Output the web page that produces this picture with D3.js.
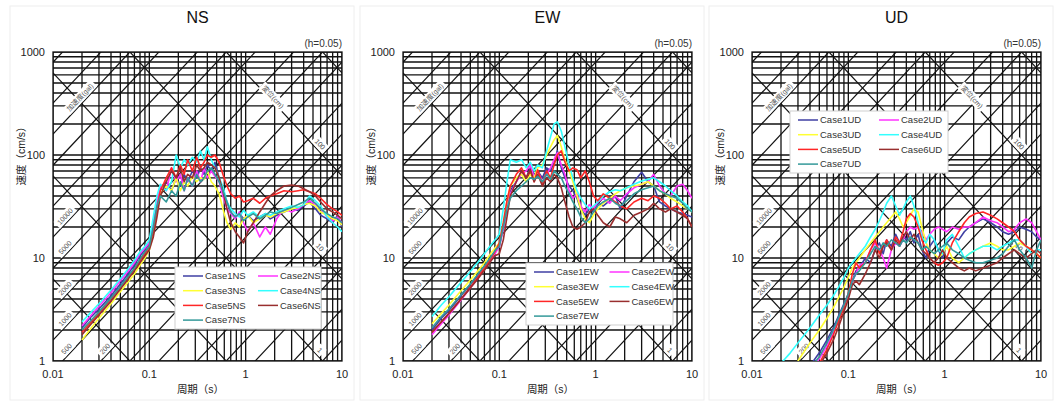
<!DOCTYPE html>
<html>
<head>
<meta charset="utf-8">
<script src="https://cdn.jsdelivr.net/npm/d3@7/dist/d3.min.js"></script>
<style>
  body { margin: 0; background: #fff; }
  svg { display: block; }
  text { font-family: Arial, "Liberation Sans", "Noto Sans CJK JP", sans-serif; }
</style>
</head>
<body>
<svg id="chart" width="1054" height="403"></svg>
<script>
// periods (s) shared by every case
const periods = [0.02, 0.025, 0.03, 0.04, 0.05, 0.06, 0.07, 0.08, 0.09, 0.1,
  0.11, 0.12, 0.13, 0.15, 0.17, 0.19, 0.21, 0.23, 0.25, 0.28,
  0.31, 0.34, 0.37, 0.4, 0.44, 0.48, 0.53, 0.58, 0.64, 0.7,
  0.78, 0.86, 0.95, 1.05, 1.2, 1.4, 1.6, 1.8, 2.1, 2.5,
  3.0, 3.5, 4.0, 4.6, 5.3, 6.0, 7.0, 8.0, 9.0, 10];

const caseNames = ['Case1', 'Case2', 'Case3', 'Case4', 'Case5', 'Case6', 'Case7'];
const caseColors = ['#3f3fa3', '#ff33ff', '#ffff33', '#33ffff', '#ff2626', '#992e2e', '#339999'];

// velocity response (cm/s), h=0.05
const nsValues = [
  [2.1, 2.7, 3.2, 4.3, 5.6, 7, 8.6, 10.5, 12, 14, 20, 32, 48, 55, 45, 60, 50, 65, 55, 70, 60, 75, 65, 80, 70, 85, 60, 45, 35, 28, 25, 27, 24, 26, 23, 25, 27, 24, 26, 28, 30, 29, 32, 35, 30, 26, 24, 22, 26, 20],
  [2.2, 2.8, 3.4, 4.6, 6, 7.4, 9, 11, 12.5, 14, 22, 35, 50, 45, 75, 55, 65, 45, 60, 50, 70, 55, 75, 60, 70, 62, 55, 40, 30, 27, 24, 28, 22, 18, 22, 16, 20, 17, 24, 30, 28, 30, 33, 36, 33, 30, 25, 23, 25, 22],
  [1.6, 2.1, 2.6, 3.6, 4.7, 5.8, 7, 8.5, 10, 12, 17, 28, 42, 50, 45, 60, 45, 55, 50, 62, 55, 60, 58, 70, 55, 50, 42, 30, 22, 19, 22, 20, 24, 26, 22, 24, 26, 25, 27, 28, 30, 31, 33, 34, 32, 28, 26, 24, 23, 21],
  [2.4, 3.0, 3.6, 4.9, 6.3, 7.8, 9.5, 11.5, 13, 15, 25, 40, 52, 45, 55, 100, 75, 90, 80, 95, 85, 110, 90, 120, 90, 75, 60, 50, 35, 30, 27, 25, 29, 26, 28, 25, 27, 26, 28, 30, 32, 31, 33, 40, 36, 32, 25, 22, 20, 18],
  [1.9, 2.4, 2.9, 4, 5.2, 6.4, 7.8, 9.5, 11, 13, 18, 30, 45, 60, 75, 60, 80, 65, 90, 70, 95, 75, 85, 100, 95, 100, 85, 65, 50, 42, 38, 40, 35, 36, 38, 34, 38, 40, 42, 45, 44, 45, 46, 44, 42, 38, 33, 30, 28, 26],
  [1.8, 2.3, 2.8, 3.8, 5, 6.2, 7.5, 9, 10.5, 12, 16, 25, 40, 55, 70, 60, 75, 55, 65, 60, 80, 70, 75, 85, 80, 75, 60, 45, 30, 22, 18, 16, 14, 18, 22, 28, 34, 40, 45, 50, 51, 50, 47, 44, 40, 35, 30, 28, 26, 24],
  [2.0, 2.5, 3.0, 4.1, 5.3, 6.6, 8, 9.8, 11.5, 13, 20, 32, 40, 35, 45, 40, 55, 45, 60, 50, 65, 55, 60, 70, 75, 65, 55, 45, 35, 28, 25, 27, 23, 25, 27, 24, 26, 28, 27, 29, 31, 33, 35, 38, 34, 30, 27, 25, 24, 22]
];

const ewValues = [
  [2.0, 2.6, 3.1, 4.3, 5.5, 6.8, 8.2, 9.8, 11.5, 13, 20, 32, 45, 55, 70, 60, 75, 65, 70, 60, 75, 70, 85, 110, 75, 60, 50, 45, 38, 30, 26, 30, 28, 34, 32, 36, 40, 30, 40, 55, 68, 55, 50, 35, 32, 30, 28, 27, 26, 25],
  [1.8, 2.3, 2.8, 3.9, 5.1, 6.4, 7.9, 9.5, 11, 13, 19, 30, 42, 55, 65, 70, 80, 60, 70, 55, 65, 75, 90, 105, 80, 65, 45, 38, 42, 32, 28, 33, 30, 35, 38, 34, 40, 36, 42, 48, 52, 55, 65, 50, 42, 40, 50, 52, 45, 38],
  [2.3, 2.9, 3.5, 4.8, 6.1, 7.5, 9, 10.8, 12.5, 14, 22, 35, 50, 60, 65, 55, 65, 60, 75, 80, 100, 120, 140, 155, 120, 90, 70, 55, 40, 30, 24, 22, 26, 30, 34, 38, 42, 45, 48, 50, 52, 55, 50, 45, 42, 38, 35, 32, 30, 28],
  [2.7, 3.5, 4.2, 5.8, 7.4, 9.1, 11, 13, 15, 17, 30, 55, 90, 85, 90, 75, 85, 70, 80, 75, 110, 150, 200, 210, 170, 120, 80, 60, 45, 38, 33, 30, 32, 35, 40, 44, 46, 45, 48, 52, 56, 58, 60, 55, 50, 45, 40, 35, 32, 28],
  [1.9, 2.4, 2.9, 4.0, 5.2, 6.5, 8, 9.6, 11.5, 14, 22, 36, 50, 65, 75, 60, 70, 55, 72, 52, 70, 60, 80, 100, 110, 85, 70, 75, 72, 60, 70, 55, 40, 36, 42, 38, 35, 32, 30, 35, 38, 36, 40, 38, 34, 30, 32, 28, 24, 20],
  [1.9, 2.4, 2.9, 4.0, 5.1, 6.3, 7.6, 9.1, 10.5, 11, 15, 25, 40, 55, 70, 60, 72, 55, 65, 50, 60, 55, 65, 60, 48, 35, 25, 20, 19, 20, 22, 28, 30, 26, 22, 20, 25, 24, 22, 26, 28, 30, 34, 30, 28, 30, 28, 26, 24, 20],
  [2.1, 2.7, 3.2, 4.4, 5.6, 7, 8.4, 10, 11.8, 13, 20, 30, 38, 45, 50, 55, 60, 58, 62, 55, 65, 58, 70, 65, 60, 50, 42, 35, 30, 25, 22, 24, 28, 32, 35, 38, 34, 32, 36, 42, 46, 48, 50, 45, 42, 40, 38, 34, 30, 28]
];

const udValues = [
  [0.5, 0.6, 0.72, 0.9, 1.2, 1.6, 2.1, 2.8, 3.6, 4.5, 6, 7.5, 8, 10, 9, 12, 14, 11, 15, 13, 17, 14, 16, 15, 18, 14, 17, 12, 10, 13, 15, 12, 10, 14, 16, 15, 18, 20, 22, 24, 22, 20, 18, 17, 18, 20, 19, 18, 16, 15],
  [0.45, 0.55, 0.65, 0.8, 1.05, 1.4, 1.9, 2.6, 3.4, 4.3, 6, 7, 8.5, 9, 12, 14, 12, 10, 8, 12, 14, 13, 15, 18, 20, 19, 20, 18, 15, 17, 19, 20, 19, 18, 20, 19, 20, 20, 22, 25, 23, 22, 20, 18, 19, 22, 24, 22, 18, 15],
  [0.7, 0.85, 1.0, 1.5, 2.0, 2.6, 3.3, 4.2, 5.2, 6.5, 8, 9, 10, 12, 14, 16, 18, 20, 22, 25, 28, 24, 20, 22, 26, 30, 28, 20, 14, 12, 11, 10, 11, 13, 10, 9, 10, 11, 12, 13, 14, 13, 12, 12, 13, 14, 13, 12, 11, 10],
  [0.95, 1.2, 1.5, 2.1, 2.8, 3.5, 4.3, 5.3, 6.5, 8, 9, 10, 11, 13, 16, 19, 23, 28, 34, 40, 32, 26, 30, 35, 40, 32, 22, 16, 14, 17, 15, 12, 11, 15, 17, 13, 10, 11, 12, 13, 13, 12, 13, 14, 15, 15, 13, 11, 12, 12],
  [0.4, 0.5, 0.6, 0.75, 0.95, 1.3, 1.8, 2.5, 3.3, 4.5, 7, 9, 8, 9, 12, 15, 11, 13, 15, 12, 16, 14, 18, 24, 27, 25, 20, 15, 12, 10, 9, 8.5, 9, 10, 14, 18, 22, 25, 27, 28, 26, 24, 22, 20, 18, 15, 13, 12, 11, 10],
  [0.38, 0.46, 0.55, 0.7, 0.9, 1.2, 1.6, 2.2, 3, 4, 5.5, 6, 5.5, 7, 9, 12, 10, 13, 14, 12, 15, 13, 16, 18, 15, 17, 14, 12, 11, 10, 9, 10, 12, 10, 9, 8, 7.5, 8, 7.5, 8, 8.5, 9, 10, 11, 12, 11, 10, 11, 12, 11],
  [0.5, 0.6, 0.7, 0.85, 1.1, 1.5, 2, 2.7, 3.5, 4.5, 6, 7, 7.5, 9, 11, 13, 12, 14, 13, 15, 14, 13, 15, 14, 16, 15, 14, 12, 13, 12, 11, 12, 13, 14, 12, 11, 10, 9.5, 9, 9, 9.5, 10, 11, 13, 15, 12, 10, 8, 12, 15]
];

// tripartite grid values
const accelLines = [1, 2, 5, 10, 20, 50, 100, 200, 500, 1000, 2000, 5000, 10000, 20000, 50000, 100000, 200000, 500000, 1000000];
const dispLines = [0.001, 0.01, 0.1, 1, 10, 100, 1000];
const accelLabels = [200, 500, 1000, 2000, 5000, 10000];
const dispLabels = [100, 10, 1];
const xTicks = [0.01, 0.1, 1, 10];
const yTicks = [1, 10, 100, 1000];

const panels = [
  {name: 'NS', left: 53, values: nsValues, legend: {x: 175, y: 267, w: 146}},
  {name: 'EW', left: 403, values: ewValues, legend: {x: 526, y: 263, w: 147}},
  {name: 'UD', left: 752, values: udValues, legend: {x: 790, y: 111, w: 158}}
];

const plotTop = 52, w = 289, h = 309;
const svg = d3.select('#chart');
const TWO_PI = 2 * Math.PI;

panels.forEach((p, pi) => {
  const g = svg.append('g').attr('transform', `translate(${p.left},${plotTop})`);
  const x = d3.scaleLog().domain([0.01, 10]).range([0, w]);
  const y = d3.scaleLog().domain([1, 1000]).range([h, 0]);
  const angle = Math.atan((h / 3) / (w / 3)) * 180 / Math.PI;

  const clipId = 'clip' + pi;
  g.append('clipPath').attr('id', clipId)
    .append('rect').attr('width', w).attr('height', h);

  // faint outer frame of the panel
  svg.insert('rect', ':first-child')
    .attr('x', p.left - 43).attr('y', 6).attr('width', w + 55).attr('height', 394)
    .attr('fill', 'none').attr('stroke', '#eeeeee');

  const grid = g.append('g').attr('clip-path', `url(#${clipId})`);

  // minor log grid
  const xGrid = [];
  const yGrid = [];
  [0.01, 0.1, 1].forEach(d => { for (let k = 1; k < 10; k++) xGrid.push(d * k); });
  [1, 10, 100].forEach(d => { for (let k = 1; k < 10; k++) yGrid.push(d * k); });
  xGrid.push(10); yGrid.push(1000);

  grid.selectAll('.vx').data(xGrid).join('line')
    .attr('x1', d => x(d)).attr('x2', d => x(d))
    .attr('y1', 0).attr('y2', h)
    .attr('stroke', '#111').attr('stroke-width', 1.3);
  grid.selectAll('.hy').data(yGrid).join('line')
    .attr('x1', 0).attr('x2', w)
    .attr('y1', d => y(d)).attr('y2', d => y(d))
    .attr('stroke', '#111').attr('stroke-width', 1.4);

  // acceleration lines  Sv = A T / 2pi
  grid.selectAll('.acc').data(accelLines).join('line')
    .attr('x1', x(0.01)).attr('y1', a => y(a * 0.01 / TWO_PI))
    .attr('x2', x(10)).attr('y2', a => y(a * 10 / TWO_PI))
    .attr('stroke', '#111').attr('stroke-width', 1.2);
  // displacement lines  Sv = 2pi D / T
  grid.selectAll('.dis').data(dispLines).join('line')
    .attr('x1', x(0.01)).attr('y1', dd => y(TWO_PI * dd / 0.01))
    .attr('x2', x(10)).attr('y2', dd => y(TWO_PI * dd / 10))
    .attr('stroke', '#111').attr('stroke-width', 1.2);

  // labels on the diagonals
  function diagLabel(px, py, rot, txt) {
    const lg = g.append('g').attr('transform', `translate(${px},${py}) rotate(${rot})`);
    const t = lg.append('text').attr('text-anchor', 'middle').attr('dy', '0.35em')
      .attr('font-size', 7).attr('fill', '#555').text(txt);
    const bw = t.node().getComputedTextLength() + 5;
    lg.insert('rect', 'text').attr('x', -bw / 2).attr('y', -5).attr('width', bw).attr('height', 10)
      .attr('fill', '#fff');
  }
  accelLabels.forEach(a => {
    let t;
    if (a * 0.01 / TWO_PI >= 1) t = x.invert(12);
    else t = x.invert(x(TWO_PI / a) + 4);
    diagLabel(x(t), y(a * t / TWO_PI) - 8, -angle, a);
  });
  {
    const t = x.invert(27);
    diagLabel(x(t), y(100000 * t / TWO_PI) - 8, -angle, '加速度(gal)');
  }
  dispLabels.forEach(dd => {
    const t = x.invert(267);
    diagLabel(x(t), y(TWO_PI * dd / t) - 8, angle, dd);
  });
  {
    const t = x.invert(220);
    diagLabel(x(t), y(TWO_PI * 100 / t) - 5, angle, '変位(cm)');
  }

  // frame
  g.append('rect').attr('width', w).attr('height', h)
    .attr('fill', 'none').attr('stroke', '#111').attr('stroke-width', 1.3);

  // spectra
  const line = d3.line()
    .x((d, i) => x(periods[i]))
    .y(d => y(d));
  g.append('g').attr('clip-path', `url(#${clipId})`)
    .selectAll('path').data(p.values).join('path')
    .attr('d', line)
    .attr('fill', 'none')
    .attr('stroke', (d, i) => caseColors[i])
    .attr('stroke-width', 1.6)
    .attr('stroke-linejoin', 'round');

  // axes labels
  g.selectAll('.xt').data(xTicks).join('text')
    .attr('x', d => x(d)).attr('y', h + 17)
    .attr('text-anchor', 'middle').attr('font-size', 11).attr('fill', '#222')
    .text(d => d);
  g.selectAll('.yt').data(yTicks).join('text')
    .attr('x', -8).attr('y', d => y(d)).attr('dy', '0.35em')
    .attr('text-anchor', 'end').attr('font-size', 11).attr('fill', '#222')
    .text(d => d);

  g.append('text').attr('x', w / 2).attr('y', -29)
    .attr('text-anchor', 'middle').attr('font-size', 16).attr('fill', '#111')
    .text(p.name);
  g.append('text').attr('x', w).attr('y', -5)
    .attr('text-anchor', 'end').attr('font-size', 10).attr('fill', '#333')
    .text('(h=0.05)');
  g.append('text').attr('x', w / 2 + 3).attr('y', h + 32)
    .attr('text-anchor', 'middle').attr('font-size', 10.5).attr('fill', '#222')
    .attr('font-family', '"Noto Sans CJK JP", sans-serif')
    .text('周期（s）');
  g.append('text')
    .attr('transform', `translate(-28,${h / 2 - 53}) rotate(-90)`)
    .attr('text-anchor', 'middle').attr('font-size', 10.5).attr('fill', '#222')
    .attr('font-family', '"Noto Sans CJK JP", sans-serif')
    .text('速度（cm/s）');

  // legend
  const L = p.legend;
  const lg = svg.append('g').attr('transform', `translate(${L.x},${L.y})`);
  lg.append('rect').attr('width', L.w).attr('height', 62)
    .attr('fill', '#fff').attr('stroke', '#cfcfcf');
  caseNames.forEach((c, i) => {
    const col = i % 2, row = Math.floor(i / 2);
    const ex = 8 + col * (L.w / 2 + 2), ey = 9 + row * 14.7;
    lg.append('line').attr('x1', ex).attr('x2', ex + 20).attr('y1', ey).attr('y2', ey)
      .attr('stroke', caseColors[i]).attr('stroke-width', 1.5);
    lg.append('text').attr('x', ex + 22).attr('y', ey).attr('dy', '0.35em')
      .attr('font-size', 9.5).attr('fill', '#333').text(c + p.name);
  });
});
</script>
</body>
</html>
